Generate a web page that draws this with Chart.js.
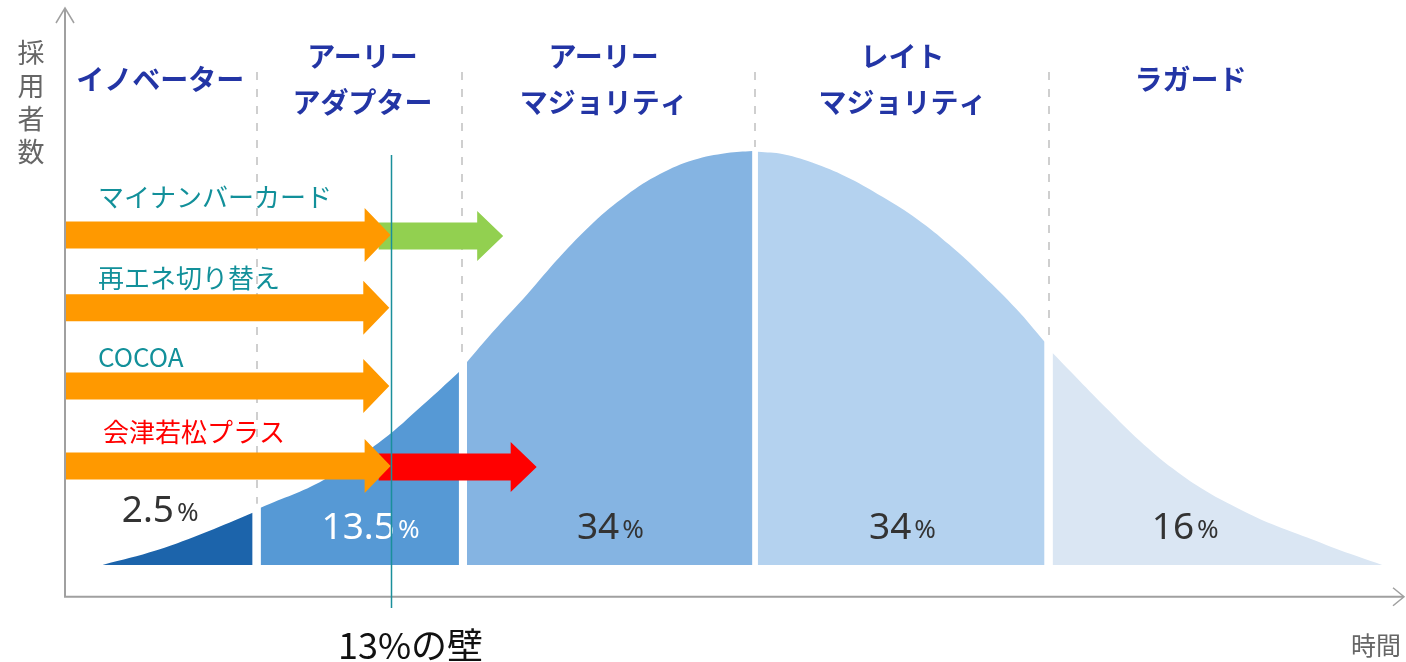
<!DOCTYPE html>
<html>
<head>
<meta charset="utf-8">
<script src="https://cdn.jsdelivr.net/npm/chart.js@4/dist/chart.umd.min.js"></script>
<style>
  html, body { margin: 0; padding: 0; background: #fff; }
  #wrap { width: 1406px; height: 662px; }
</style>
</head>
<body>
<div id="wrap"><canvas id="curve" width="1406" height="662"></canvas></div>
<script>
// 時間 (0-100) と 採用者数 (頂点 = 100)
const segLabels = [['イノベーター'], ['アーリー', 'アダプター'], ['アーリー', 'マジョリティ'], ['レイト', 'マジョリティ'], ['ラガード']];
const segShares = ['2.5', '13.5', '34', '34', '16'];
const segBounds = [14.3, 29.6, 51.5, 73.4];

const innovatorsX = [2.8, 6.9, 10.6, 14.0];
const innovatorsY = [0, 3.6, 8.0, 12.6];
const earlyAdoptersX = [14.6, 19.3, 23.7, 26.7, 29.4];
const earlyAdoptersY = [13.8, 20.5, 30.2, 38.6, 46.6];
const earlyMajorityX = [30.0, 31.9, 34.5, 36.9, 39.4, 41.9, 44.4, 46.9, 49.4, 51.3];
const earlyMajorityY = [49.0, 56.2, 65.4, 74.3, 82.6, 89.3, 94.4, 97.8, 99.5, 100];
const lateMajorityX = [51.7, 53.6, 56.1, 58.6, 61.0, 63.6, 66.0, 68.5, 71.0, 73.1];
const lateMajorityY = [99.8, 99.2, 96.8, 93.3, 88.9, 83.5, 77.3, 69.9, 61.8, 53.9];
const laggardsX = [73.7, 77.8, 80.2, 82.7, 85.2, 87.7, 90.1, 92.7, 95.1, 98.3];
const laggardsY = [51.2, 37.6, 30.0, 23.2, 17.7, 13.4, 9.8, 6.6, 3.6, 0];

// 事例の矢印
const itemNames = ['マイナンバーカード', '再エネ切り替え', 'COCOA', '会津若松プラス'];
const itemLevels = [79.7, 62.1, 43.2, 23.9];
const itemReach = [24.3, 24.2, 24.2, 24.3];
const itemExtend = [32.7, null, null, 35.2];
const wallX = 24.3;
const wallLabel = '13%の壁';

const segYs = [innovatorsY, earlyAdoptersY, earlyMajorityY, lateMajorityY, laggardsY];
const pts = (xs, ys) => xs.map((x, i) => ({ x: x, y: ys[i] }));

function segment(xs, ys, color) {
    return {
        data: pts(xs, ys),
        backgroundColor: color,
        borderWidth: 0,
        pointRadius: 0,
        fill: 'origin',
        tension: 0.4
    };
}

const FONT_JP = '"Noto Sans CJK JP", "Noto Sans", sans-serif';
const FONT_NUM = '"Noto Sans", Roboto, sans-serif';

const decorations = {
    id: 'decorations',
    beforeDatasetsDraw(chart) {
        const { ctx, scales: { x, y } } = chart;
        ctx.save();
        ctx.strokeStyle = '#cfcfcf';
        ctx.lineWidth = 2;
        ctx.setLineDash([8, 9]);
        segBounds.forEach((b, i) => {
            // 曲線の上端で止める
            const left = segYs[i][segYs[i].length - 1];
            const right = segYs[i + 1][0];
            const px = Math.round(x.getPixelForValue(b));
            ctx.beginPath();
            ctx.moveTo(px, 72);
            ctx.lineTo(px, y.getPixelForValue(Math.max(left, right)) - 4);
            ctx.stroke();
        });
        ctx.restore();
    },
    afterDatasetsDraw(chart) {
        const { ctx, scales: { x, y } } = chart;
        const x0 = x.getPixelForValue(0);
        const yAxis = y.getPixelForValue(-7.7);
        ctx.save();

        // 軸
        ctx.strokeStyle = '#a0a0a0';
        ctx.lineWidth = 2;
        ctx.beginPath();
        ctx.moveTo(x0, 9);
        ctx.lineTo(x0, yAxis);
        ctx.lineTo(1403, yAxis);
        ctx.stroke();
        ctx.lineWidth = 1.5;
        ctx.beginPath();
        ctx.moveTo(x0 - 9, 23); ctx.lineTo(x0, 8); ctx.lineTo(x0 + 9, 23);
        ctx.moveTo(1393, yAxis - 9); ctx.lineTo(1404, yAxis); ctx.lineTo(1393, yAxis + 9);
        ctx.stroke();

        ctx.fillStyle = '#666';
        ctx.font = '27px ' + FONT_JP;
        ctx.textAlign = 'center';
        ctx.textBaseline = 'middle';
        ['採', '用', '者', '数'].forEach((c, i) => ctx.fillText(c, 31, 53 + i * 33));
        ctx.font = '25px ' + FONT_JP;
        ctx.fillText('時間', 1376, 645);

        // 区分名
        ctx.fillStyle = '#2335a5';
        ctx.font = 'bold 28px ' + FONT_JP;
        const labelX = [7.1, 22.2, 40.2, 62.5, 84.0];
        segLabels.forEach((lines, i) => {
            const px = x.getPixelForValue(labelX[i]);
            if (lines.length === 1) {
                ctx.fillText(lines[0], px, 79);
            } else {
                ctx.fillText(lines[0], px, 56);
                ctx.fillText(lines[1], px, 102);
            }
        });

        // 割合
        const shareX = [7.1, 22.8, 40.7, 62.5, 83.6];
        segShares.forEach((s, i) => {
            const cx = x.getPixelForValue(shareX[i]);
            const cy = i === 0 ? 511 : 528;
            ctx.font = '37px ' + FONT_NUM;
            const w1 = ctx.measureText(s).width;
            ctx.font = '26px ' + FONT_NUM;
            const w2 = ctx.measureText('%').width;
            const left = cx - (w1 + w2 + 3) / 2;
            ctx.fillStyle = i === 1 ? '#ffffff' : '#333333';
            ctx.textAlign = 'left';
            ctx.font = '37px ' + FONT_NUM;
            ctx.fillText(s, left, cy);
            ctx.font = '26px ' + FONT_NUM;
            ctx.fillText('%', left + w1 + 3, cy + 3);
        });

        // 矢印
        const drawArrow = (xa, xb, py, body, head, len, color) => {
            ctx.fillStyle = color;
            ctx.beginPath();
            ctx.moveTo(xa, py - body / 2);
            ctx.lineTo(xb - len, py - body / 2);
            ctx.lineTo(xb - len, py - head / 2);
            ctx.lineTo(xb, py);
            ctx.lineTo(xb - len, py + head / 2);
            ctx.lineTo(xb - len, py + body / 2);
            ctx.lineTo(xa, py + body / 2);
            ctx.closePath();
            ctx.fill();
        };
        const nameGap = [38, 30, 29, 34];
        itemNames.forEach((name, i) => {
            const py = y.getPixelForValue(itemLevels[i]);
            const tip = x.getPixelForValue(itemReach[i]);
            if (itemExtend[i] !== null) {
                const c = i === 0 ? '#92d050' : '#ff0000';
                drawArrow(tip - 12, x.getPixelForValue(itemExtend[i]), py + 1, 27, 50, 26, c);
            }
            drawArrow(x0 + 1, tip, py, 27, 54, 26, '#ff9900');
            ctx.fillStyle = i === 3 ? '#ff0000' : '#12909a';
            ctx.font = '26px ' + FONT_JP;
            ctx.textAlign = 'left';
            ctx.fillText(name, i === 3 ? 103 : 98, py - nameGap[i]);
        });

        // 13%の壁
        const wx = Math.round(x.getPixelForValue(wallX)) + 0.5;
        ctx.strokeStyle = '#1a8f9b';
        ctx.lineWidth = 1.5;
        ctx.beginPath();
        ctx.moveTo(wx, y.getPixelForValue(99));
        ctx.lineTo(wx, 608);
        ctx.stroke();
        ctx.fillStyle = '#111';
        ctx.font = '36px ' + FONT_JP;
        ctx.textAlign = 'center';
        ctx.fillText(wallLabel, wx + 19, 645);
        ctx.restore();
    }
};

new Chart(document.getElementById('curve'), {
    type: 'line',
    data: {
        datasets: [
            segment(innovatorsX, innovatorsY, '#1c64ab'),
            segment(earlyAdoptersX, earlyAdoptersY, '#5699d5'),
            segment(earlyMajorityX, earlyMajorityY, '#85b4e2'),
            segment(lateMajorityX, lateMajorityY, '#b4d2ef'),
            segment(laggardsX, laggardsY, '#dae6f3')
        ]
    },
    options: {
        responsive: false,
        animation: false,
        devicePixelRatio: 1,
        layout: { padding: { left: 65, right: 1, top: 6, bottom: 64 } },
        scales: {
            x: { type: 'linear', min: 0, max: 100, display: false },
            y: { type: 'linear', min: -8, max: 135, display: false }
        },
        plugins: { legend: { display: false }, tooltip: { enabled: false } }
    },
    plugins: [decorations]
});
</script>
</body>
</html>
